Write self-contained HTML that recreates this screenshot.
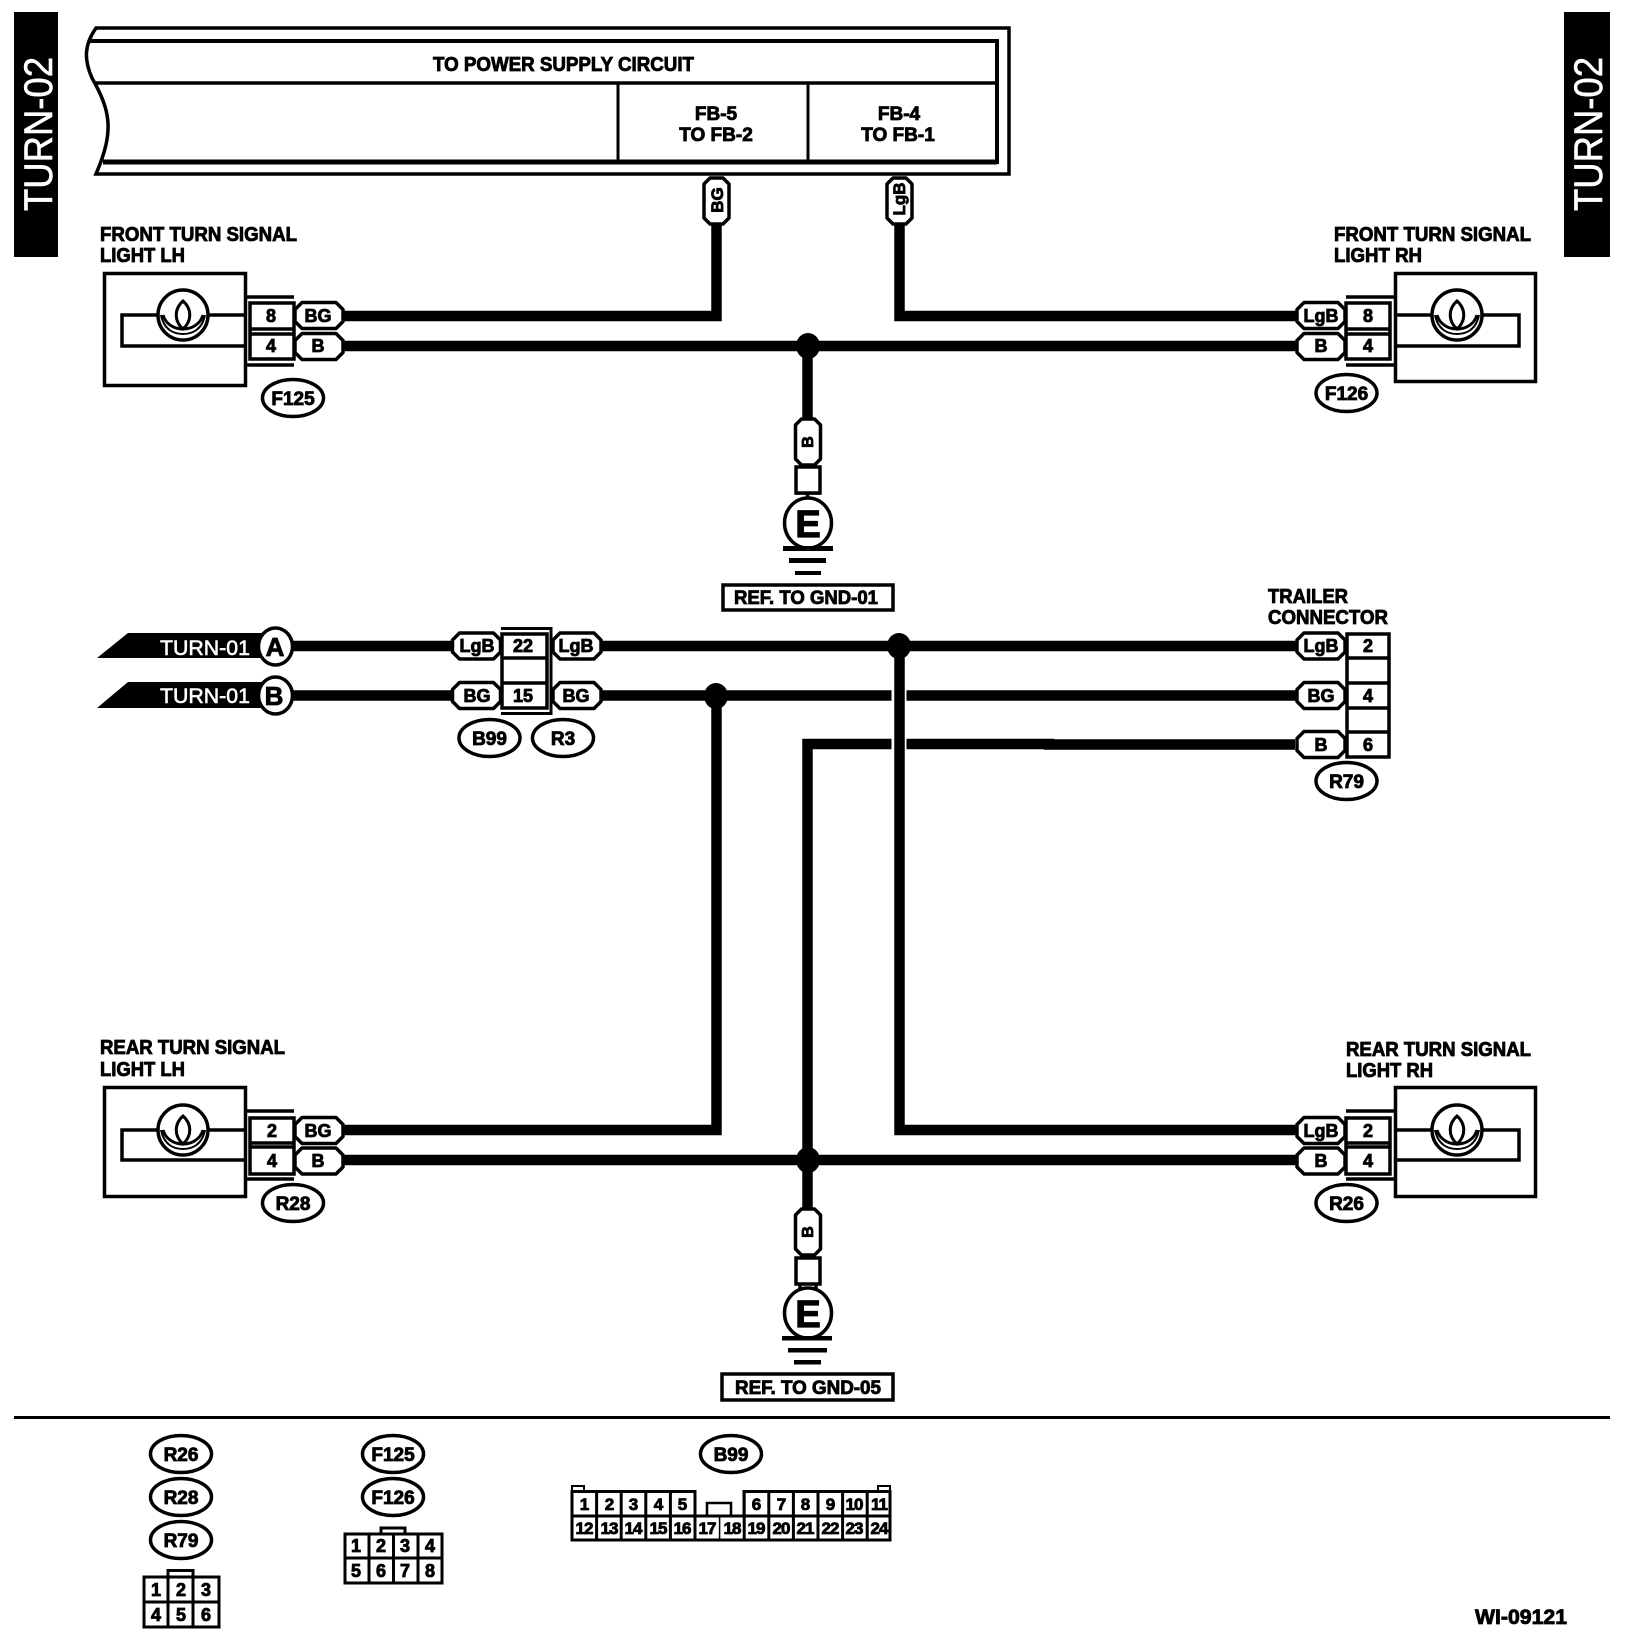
<!DOCTYPE html>
<html><head><meta charset="utf-8"><style>
html,body{margin:0;padding:0;background:#fff}
svg{display:block}
text{font-family:"Liberation Sans",sans-serif;font-weight:bold;fill:#000;stroke:#000;stroke-width:.85}
.m{text-anchor:middle}
.p{font-size:18px}
.o{font-size:19px;text-anchor:middle}
.g{font-size:18px;text-anchor:middle}
.n{font-size:17px;text-anchor:middle;letter-spacing:-1px}
.l{font-size:20px}
.w{font-weight:normal;fill:#fff;stroke:#fff;stroke-width:.6}
.pill{fill:#fff;stroke:#000;stroke-width:3.5;stroke-linejoin:round}
.ov{fill:#fff;stroke:#000;stroke-width:3.5}
.bx{fill:#fff;stroke:#000;stroke-width:3.5}
.ln{fill:none;stroke:#000;stroke-width:3.5}
.th{fill:none;stroke:#000;stroke-width:3}
.wr{fill:none;stroke:#000;stroke-width:10.5}
</style></head><body>
<svg width="1632" height="1648" viewBox="0 0 1632 1648" xmlns="http://www.w3.org/2000/svg">
<defs>
<g id="lamp">
<circle r="25" fill="#fff" stroke="#000" stroke-width="3.5"/>
<path d="M-20,0 C-17,10 -8,14 0,14 C8,14 17,10 20,0" fill="none" stroke="#000" stroke-width="3"/>
<path d="M-22,0 C-19,15 -9,19 0,19 C9,19 19,15 22,0" fill="none" stroke="#000" stroke-width="2"/>
<path d="M0,14 C-9,6 -9,-6 0,-14 C9,-6 9,6 0,14 Z" fill="none" stroke="#000" stroke-width="3"/>
</g>
<polygon id="pH" class="pill" points="0,7 7,0 41,0 48,7 48,19 41,26 7,26 0,19"/>
<polygon id="pV" class="pill" points="0,6 6,0 19,0 25,6 25,40 19,46 6,46 0,40"/>
</defs>
<rect width="1632" height="1648" fill="#fff"/>

<!-- side tabs -->
<rect x="14" y="12" width="44" height="245" fill="#000"/>
<rect x="1564" y="12" width="46" height="245" fill="#000"/>
<text class="w" transform="translate(52,211) rotate(-90)" textLength="154" lengthAdjust="spacingAndGlyphs" style="font-size:40px">TURN-02</text>
<text class="w" transform="translate(1602,211) rotate(-90)" textLength="154" lengthAdjust="spacingAndGlyphs" style="font-size:40px">TURN-02</text>

<!-- top frame -->
<path d="M96,28 H1009 V174 H96 C115,130 110,110 92,78 C84,60 84,45 96,28 Z" fill="#fff" stroke="#000" stroke-width="3.5"/>
<path d="M90,41 H997 V162 H103" fill="none" stroke="#000" stroke-width="4"/>
<path d="M103,162 H997" fill="none" stroke="#000" stroke-width="5"/>
<path d="M96,83 H997" class="ln"/>
<path d="M618,83 V162 M808,83 V162" class="th"/>
<text x="433" y="71" style="font-size:20px" textLength="261" lengthAdjust="spacingAndGlyphs">TO POWER SUPPLY CIRCUIT</text>
<text class="m" x="716" y="120" style="font-size:19px">FB-5</text>
<text class="m" x="716" y="141" style="font-size:19px">TO FB-2</text>
<text class="m" x="899" y="120" style="font-size:19px">FB-4</text>
<text class="m" x="898" y="141" style="font-size:19px">TO FB-1</text>

<!-- wires -->
<path class="wr" d="M716.5,225 V316 H340"/>
<path class="wr" d="M899.5,225 V316 H1298"/>
<path class="wr" d="M340,346 H1298"/>
<path class="wr" d="M807.5,346 V420"/>
<path d="M796,493 H820 M807.5,490 V499" class="ln"/>
<path class="wr" d="M290,646 H455 M598,646 H1298"/>
<path class="wr" d="M290,695.5 H455 M598,695.5 H1298"/>
<path class="wr" d="M1295,744.5 H1049 V744 H807.5 V1160"/>
<rect x="891.5" y="685" width="15" height="70" fill="#fff"/>
<path class="wr" d="M899.5,646 V1130 H1298"/>
<path class="wr" d="M716.5,695.5 V1130 H340"/>
<path class="wr" d="M340,1160 H1298"/>
<path class="wr" d="M807.5,1160 V1210"/>

<!-- junctions -->
<ellipse cx="808" cy="346" rx="12" ry="13" fill="#000"/>
<ellipse cx="899" cy="646" rx="12" ry="13" fill="#000"/>
<ellipse cx="716" cy="696" rx="12" ry="13" fill="#000"/>
<ellipse cx="808" cy="1160" rx="12" ry="13" fill="#000"/>

<!-- vertical pills top -->
<use href="#pV" x="704" y="178"/>
<use href="#pV" x="887" y="178"/>
<text class="m" transform="translate(723,200) rotate(-90)" style="font-size:17px">BG</text>
<text class="m" transform="translate(905,199) rotate(-90)" style="font-size:17px">LgB</text>

<!-- Front LH -->
<text class="l" x="100" y="241" textLength="197" lengthAdjust="spacingAndGlyphs">FRONT TURN SIGNAL</text>
<text class="l" x="100" y="262" textLength="85" lengthAdjust="spacingAndGlyphs">LIGHT LH</text>
<rect class="bx" x="104.500" y="273.500" width="141" height="112"/>
<path class="ln" d="M246,315 H122 V346 H246"/>
<use href="#lamp" x="183" y="315"/>
<path class="ln" d="M246,297 H294 M246,365 H294"/>
<rect class="bx" x="250" y="303" width="44" height="56"/>
<path class="ln" d="M250,329 H294 M250,334 H294"/>
<text class="g" x="271" y="322">8</text><text class="g" x="271" y="352">4</text>
<use href="#pH" x="295" y="302.500"/>
<use href="#pH" x="295" y="333.500"/>
<text class="p m" x="318" y="322">BG</text><text class="p m" x="318" y="352">B</text>
<ellipse class="ov" cx="293" cy="398" rx="30.500" ry="18.500"/>
<text class="o" x="293" y="405">F125</text>

<!-- Front RH -->
<text class="l" x="1334" y="241" textLength="197" lengthAdjust="spacingAndGlyphs">FRONT TURN SIGNAL</text>
<text class="l" x="1334" y="262" textLength="88" lengthAdjust="spacingAndGlyphs">LIGHT RH</text>
<rect class="bx" x="1395.500" y="273.500" width="140" height="108"/>
<path class="ln" d="M1394,315 H1519 V346 H1394"/>
<use href="#lamp" x="1457" y="315"/>
<path class="ln" d="M1346,297 H1394 M1346,365 H1394"/>
<rect class="bx" x="1346" y="303" width="44" height="56"/>
<path class="ln" d="M1346,329 H1390 M1346,334 H1390"/>
<text class="g" x="1368" y="322">8</text><text class="g" x="1368" y="352">4</text>
<use href="#pH" x="1297" y="302.500"/>
<use href="#pH" x="1297" y="333.500"/>
<text class="p m" x="1321" y="322">LgB</text><text class="p m" x="1321" y="352">B</text>
<ellipse class="ov" cx="1346.500" cy="393" rx="30.500" ry="18.500"/>
<text class="o" x="1346.500" y="400">F126</text>

<!-- Ground 1 -->
<use href="#pV" x="795.500" y="419"/>
<text class="m" transform="translate(813,442) rotate(-90)" style="font-size:16px">B</text>
<rect class="bx" x="796" y="467" width="24" height="26"/>
<ellipse class="ov" cx="808" cy="523" rx="23.500" ry="25"/>
<text class="m" x="808" y="537" style="font-size:38px;stroke-width:1.2">E</text>
<rect x="783" y="546" width="50" height="5" fill="#000"/>
<rect x="789" y="558" width="37" height="5" fill="#000"/>
<rect x="795" y="571" width="26" height="4" fill="#000"/>
<rect class="bx" x="723" y="585" width="170" height="25"/>
<text x="734" y="604" style="font-size:19px" textLength="144" lengthAdjust="spacingAndGlyphs">REF. TO GND-01</text>

<!-- TURN-01 flags -->
<polygon points="97,658 128,633 262,633 262,658" fill="#000"/>
<polygon points="97,708 128,682 262,682 262,708" fill="#000"/>
<text class="w" x="160" y="655" textLength="90" lengthAdjust="spacingAndGlyphs" style="font-size:21px">TURN-01</text>
<text class="w" x="160" y="703" textLength="90" lengthAdjust="spacingAndGlyphs" style="font-size:21px">TURN-01</text>
<ellipse class="ov" cx="275.500" cy="646.500" rx="17" ry="18.500"/>
<ellipse class="ov" cx="275.500" cy="695.500" rx="17" ry="18.500"/>
<text class="m" x="275" y="656" style="font-size:26px">A</text>
<text class="m" x="274" y="705" style="font-size:26px">B</text>

<!-- Inline connector B99/R3 -->
<path class="ln" d="M501,628.500 H551 V713.500 H501" style="stroke-width:3"/>
<rect class="bx" x="502" y="634" width="45" height="74"/>
<path class="ln" d="M502,658 H547 M502,683 H547"/>
<text class="g" x="523" y="652">22</text><text class="g" x="523" y="702">15</text>
<use href="#pH" x="452.500" y="633"/>
<use href="#pH" x="452.500" y="682.500"/>
<use href="#pH" x="553" y="633"/>
<use href="#pH" x="553" y="682.500"/>
<text class="p m" x="477" y="652">LgB</text><text class="p m" x="477" y="702">BG</text>
<text class="p m" x="576" y="652">LgB</text><text class="p m" x="576" y="702">BG</text>
<ellipse class="ov" cx="489.500" cy="738" rx="30.500" ry="18.500"/>
<ellipse class="ov" cx="563" cy="738" rx="30.500" ry="18.500"/>
<text class="o" x="489.500" y="745">B99</text><text class="o" x="563" y="745">R3</text>

<!-- Trailer connector -->
<text class="l" x="1268" y="603" textLength="80" lengthAdjust="spacingAndGlyphs">TRAILER</text>
<text class="l" x="1268" y="624" textLength="120" lengthAdjust="spacingAndGlyphs">CONNECTOR</text>
<rect class="bx" x="1347" y="634" width="42" height="123"/>
<path class="ln" d="M1347,658 H1389 M1347,683 H1389 M1347,708 H1389 M1347,732 H1389"/>
<text class="g" x="1368" y="652">2</text><text class="g" x="1368" y="702">4</text><text class="g" x="1368" y="751">6</text>
<use href="#pH" x="1297" y="633"/>
<use href="#pH" x="1297" y="682.500"/>
<use href="#pH" x="1297" y="731.500"/>
<text class="p m" x="1321" y="652">LgB</text><text class="p m" x="1321" y="702">BG</text><text class="p m" x="1321" y="751">B</text>
<ellipse class="ov" cx="1346.500" cy="781" rx="30.500" ry="18.500"/>
<text class="o" x="1346.500" y="788">R79</text>

<!-- Rear LH -->
<text class="l" x="100" y="1054" textLength="185" lengthAdjust="spacingAndGlyphs">REAR TURN SIGNAL</text>
<text class="l" x="100" y="1076" textLength="85" lengthAdjust="spacingAndGlyphs">LIGHT LH</text>
<rect class="bx" x="104.500" y="1087.500" width="141" height="109"/>
<path class="ln" d="M246,1130 H122 V1160 H246"/>
<use href="#lamp" x="183" y="1130"/>
<path class="ln" d="M246,1111 H294 M246,1179 H294"/>
<rect class="bx" x="250" y="1118" width="44" height="56"/>
<path class="ln" d="M250,1143 H294 M250,1147 H294"/>
<text class="g" x="272" y="1137">2</text><text class="g" x="272" y="1167">4</text>
<use href="#pH" x="295" y="1117.500"/>
<use href="#pH" x="295" y="1148"/>
<text class="p m" x="318" y="1137">BG</text><text class="p m" x="318" y="1167">B</text>
<ellipse class="ov" cx="293" cy="1203" rx="30.500" ry="18.500"/>
<text class="o" x="293" y="1210">R28</text>

<!-- Rear RH -->
<text class="l" x="1346" y="1056" textLength="185" lengthAdjust="spacingAndGlyphs">REAR TURN SIGNAL</text>
<text class="l" x="1346" y="1077" textLength="87" lengthAdjust="spacingAndGlyphs">LIGHT RH</text>
<rect class="bx" x="1395.500" y="1087.500" width="140" height="109"/>
<path class="ln" d="M1394,1130 H1519 V1160 H1394"/>
<use href="#lamp" x="1457" y="1130"/>
<path class="ln" d="M1346,1111 H1394 M1346,1179 H1394"/>
<rect class="bx" x="1346" y="1118" width="44" height="56"/>
<path class="ln" d="M1346,1143 H1390 M1346,1147 H1390"/>
<text class="g" x="1368" y="1137">2</text><text class="g" x="1368" y="1167">4</text>
<use href="#pH" x="1297" y="1117.500"/>
<use href="#pH" x="1297" y="1148"/>
<text class="p m" x="1321" y="1137">LgB</text><text class="p m" x="1321" y="1167">B</text>
<ellipse class="ov" cx="1346.500" cy="1203" rx="30.500" ry="18.500"/>
<text class="o" x="1346.500" y="1210">R26</text>

<!-- Ground 2 -->
<use href="#pV" x="795.500" y="1209"/>
<text class="m" transform="translate(813,1232) rotate(-90)" style="font-size:16px">B</text>
<rect class="bx" x="796" y="1258" width="24" height="26"/>
<path class="ln" d="M800,1284 V1289 M816,1284 V1289"/>
<ellipse class="ov" cx="808" cy="1313" rx="23.500" ry="25"/>
<text class="m" x="808" y="1327" style="font-size:38px;stroke-width:1.2">E</text>
<rect x="782" y="1336" width="50" height="4.500" fill="#000"/>
<rect x="788" y="1348" width="39" height="4.500" fill="#000"/>
<rect x="794" y="1360" width="27" height="4.500" fill="#000"/>
<rect class="bx" x="722" y="1374" width="171" height="26"/>
<text x="735" y="1394" style="font-size:19px" textLength="146" lengthAdjust="spacingAndGlyphs">REF. TO GND-05</text>

<!-- Rule -->
<rect x="14" y="1416" width="1596" height="3" fill="#000"/>

<!-- Legend ovals -->
<ellipse class="ov" cx="181" cy="1454" rx="30.500" ry="18.500"/><text class="o" x="181" y="1461">R26</text>
<ellipse class="ov" cx="181" cy="1497" rx="30.500" ry="18.500"/><text class="o" x="181" y="1504">R28</text>
<ellipse class="ov" cx="181" cy="1540" rx="30.500" ry="18.500"/><text class="o" x="181" y="1547">R79</text>
<ellipse class="ov" cx="393" cy="1454" rx="30.500" ry="18.500"/><text class="o" x="393" y="1461">F125</text>
<ellipse class="ov" cx="393" cy="1497" rx="30.500" ry="18.500"/><text class="o" x="393" y="1504">F126</text>
<ellipse class="ov" cx="731" cy="1454" rx="30.500" ry="18.500"/><text class="o" x="731" y="1461">B99</text>

<!-- Grid 3x2 -->
<path class="th" d="M168,1576 V1570.500 H193 V1576"/>
<rect class="th" x="144" y="1577" width="75" height="50"/>
<path class="th" d="M144,1602 H219 M168,1577 V1627 M193,1577 V1627"/>
<text class="g" x="156" y="1596">1</text><text class="g" x="181" y="1596">2</text><text class="g" x="206" y="1596">3</text>
<text class="g" x="156" y="1621">4</text><text class="g" x="181" y="1621">5</text><text class="g" x="206" y="1621">6</text>

<!-- Grid 4x2 -->
<path class="th" d="M381,1533 V1528 H405 V1533"/>
<rect class="th" x="345" y="1534" width="97" height="49"/>
<path class="th" d="M345,1558 H442 M369,1534 V1583 M393.500,1534 V1583 M418,1534 V1583"/>
<text class="g" x="356" y="1552">1</text><text class="g" x="381" y="1552">2</text><text class="g" x="405" y="1552">3</text><text class="g" x="430" y="1552">4</text>
<text class="g" x="356" y="1577">5</text><text class="g" x="381" y="1577">6</text><text class="g" x="405" y="1577">7</text><text class="g" x="430" y="1577">8</text>

<!-- Grid 24 -->
<rect x="572" y="1486" width="12" height="6" fill="#fff" stroke="#000" stroke-width="2"/>
<rect x="878" y="1486" width="12" height="6" fill="#fff" stroke="#000" stroke-width="2"/>
<path class="th" d="M572,1491.500 H695 V1516 H744 V1491.500 H890 V1540 H572 Z"/>
<path class="th" d="M707,1516 V1503 H731 V1516" style="stroke-width:2.500"/>
<path class="th" d="M572,1516 H890"/>
<path class="th" d="M596.600,1491 V1540 M621.200,1491 V1540 M645.800,1491 V1540 M670.400,1491 V1540 M695,1491 V1540 M744.200,1491 V1540 M768.800,1491 V1540 M793.400,1491 V1540 M818,1491 V1540 M842.600,1491 V1540 M867.200,1491 V1540"/>
<path d="M719.600,1516 V1540" fill="none" stroke="#000" stroke-width="1.500"/>
<text class="n" x="584" y="1510">1</text><text class="n" x="609" y="1510">2</text><text class="n" x="633" y="1510">3</text><text class="n" x="658" y="1510">4</text><text class="n" x="682" y="1510">5</text>
<text class="n" x="756" y="1510">6</text><text class="n" x="781" y="1510">7</text><text class="n" x="805" y="1510">8</text><text class="n" x="830" y="1510">9</text><text class="n" x="854" y="1510">10</text><text class="n" x="879" y="1510">11</text>
<text class="n" x="584" y="1534">12</text><text class="n" x="609" y="1534">13</text><text class="n" x="633" y="1534">14</text><text class="n" x="658" y="1534">15</text><text class="n" x="682" y="1534">16</text><text class="n" x="707" y="1534">17</text><text class="n" x="732" y="1534">18</text><text class="n" x="756" y="1534">19</text><text class="n" x="781" y="1534">20</text><text class="n" x="805" y="1534">21</text><text class="n" x="830" y="1534">22</text><text class="n" x="854" y="1534">23</text><text class="n" x="879" y="1534">24</text>

<text x="1475" y="1624" style="font-size:21px" textLength="92" lengthAdjust="spacingAndGlyphs">WI-09121</text>
</svg>
</body></html>
